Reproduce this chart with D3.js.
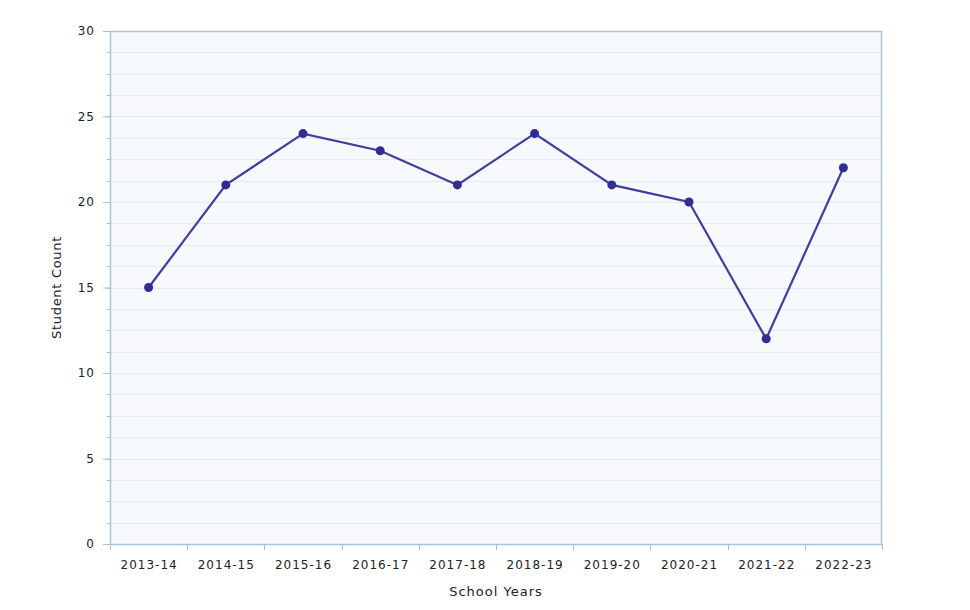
<!DOCTYPE html>
<html><head><meta charset="utf-8">
<script src="https://cdn.jsdelivr.net/npm/d3@7"></script>
<style>body{margin:0;background:#fff;} text{font-family:"DejaVu Sans",Verdana,sans-serif;}</style>
</head><body>
<svg id="c" width="970" height="610"></svg>
<script>
const categories = ["2013-14","2014-15","2015-16","2016-17","2017-18","2018-19","2019-20","2020-21","2021-22","2022-23"];
const studentCount = [15,21,24,23,21,24,21,20,12,22];
const yMajorTicks = [0,5,10,15,20,25,30];
const yMinorTicks = d3.range(0,30.01,1.25);

const svg = d3.select("#c");
const m = {l:110, r:882, t:31, b:544};
const x = d3.scaleBand().domain(categories).range([m.l,m.r]);
const y = d3.scaleLinear().domain([0,30]).range([m.b,m.t]);

svg.append("rect").attr("x",m.l).attr("y",m.t).attr("width",m.r-m.l).attr("height",m.b-m.t).attr("fill","#f7f9fc");

// gridlines
svg.append("g").selectAll("line").data(yMinorTicks.filter(d=>d>0&&d<30)).join("line")
  .attr("x1",m.l).attr("x2",m.r).attr("y1",d=>Math.round(y(d))+0.5).attr("y2",d=>Math.round(y(d))+0.5)
  .attr("stroke","#e3eaf2").attr("stroke-width",1);

// minor ticks left
svg.append("g").selectAll("line").data(yMinorTicks).join("line")
  .attr("x1",m.l-3).attr("x2",m.l).attr("y1",d=>Math.round(y(d))+0.5).attr("y2",d=>Math.round(y(d))+0.5)
  .attr("stroke","#a9c3d8");

// y axis
const yAxis = d3.axisLeft(y).tickValues(yMajorTicks).tickSize(7).tickPadding(8);
const gy = svg.append("g").attr("transform",`translate(${m.l},0)`).call(yAxis);
gy.select(".domain").remove();
gy.selectAll(".tick line").attr("stroke","#a9c3d8");
gy.selectAll("text").attr("font-size",12).attr("fill","#222").attr("letter-spacing","1px").attr("font-family","DejaVu Sans, Verdana, sans-serif");

// x axis
const gx = svg.append("g").attr("transform",`translate(0,${m.b})`).call(d3.axisBottom(x).tickSize(0).tickPadding(16));
gx.select(".domain").remove();
gx.selectAll("text").attr("font-size",12).attr("fill","#222").attr("letter-spacing","1px").attr("dx","0.5").attr("font-family","DejaVu Sans, Verdana, sans-serif");
const bounds = categories.map(c=>x(c)).concat([m.r]);
svg.append("g").selectAll("line").data(bounds).join("line")
  .attr("x1",d=>Math.round(d)+0.5).attr("x2",d=>Math.round(d)+0.5).attr("y1",m.b).attr("y2",m.b+6)
  .attr("stroke","#a9c3d8");

// frame lines
svg.append("line").attr("x1",m.l+0.5).attr("x2",m.l+0.5).attr("y1",m.t).attr("y2",m.b).attr("stroke","#a9c3d8").attr("stroke-width",1.5);
svg.append("line").attr("x1",m.r-0.5).attr("x2",m.r-0.5).attr("y1",m.t).attr("y2",m.b).attr("stroke","#a9c3d8").attr("stroke-width",1.5);
svg.append("line").attr("x1",m.l).attr("x2",m.r).attr("y1",m.t+0.5).attr("y2",m.t+0.5).attr("stroke","#a9c3d8").attr("stroke-width",1.5);
svg.append("line").attr("x1",m.l).attr("x2",m.r).attr("y1",m.b+0.5).attr("y2",m.b+0.5).attr("stroke","#a9c3d8").attr("stroke-width",1.5);

// line
const cx = c => x(c)+x.bandwidth()/2;
svg.append("path").datum(categories.map((c,i)=>[cx(c),y(studentCount[i])]))
  .attr("d",d3.line()).attr("fill","none").attr("stroke","#3f3fa0").attr("stroke-width",2.2);
svg.append("g").selectAll("circle").data(categories).join("circle")
  .attr("cx",cx).attr("cy",(c,i)=>y(studentCount[i])).attr("r",4.5).attr("fill","#2e2e94");

// axis titles
svg.append("text").attr("x",(m.l+m.r)/2).attr("y",596).attr("text-anchor","middle").attr("font-size",13).attr("letter-spacing","1px").attr("fill","#222").text("School Years");
svg.append("text").attr("transform",`translate(61,${(m.t+m.b)/2}) rotate(-90)`).attr("text-anchor","middle").attr("font-size",13).attr("letter-spacing","0.7px").attr("fill","#222").text("Student Count");
</script>
</body></html>
